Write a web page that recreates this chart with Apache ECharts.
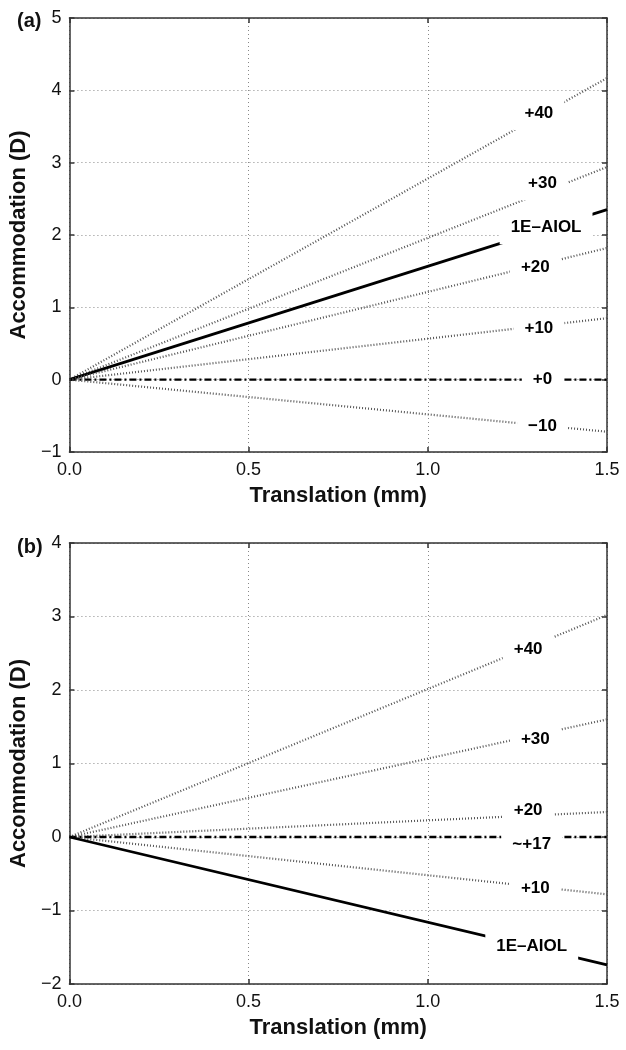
<!DOCTYPE html>
<html lang="en">
<head>
    <meta charset="UTF-8">
    <title>Accommodation vs translation</title>
    <style>
        html,body{
            height: 100%;
        }
        body{
            margin: 0;
            padding: 0;
            background: #fff;
        }
        #chart{
            width: 626px;
            height: 1050px;
        }
    </style>
</head>
<body>
    <div id="chart"></div>
</body>
</html>
<script src="https://cdn.jsdelivr.net/npm/echarts@6/dist/echarts.min.js"></script>
<script>
    // x range of every line (mm)
    var xStart = 0;
    var xEnd = 1.5;

    // panel (a)
    var aNames = ['+40', '+30', '1E\u2013AIOL', '+20', '+10', '+0', '\u221210'];
    var aEnd = [4.17, 2.94, 2.35, 1.82, 0.85, 0, -0.72];
    var aLabelX = [1.31, 1.32, 1.33, 1.30, 1.31, 1.32, 1.32];
    var aLabelY = [3.68, 2.71, 2.10, 1.56, 0.71, 0, -0.65];

    // panel (b)
    var bNames = ['+40', '+30', '+20', '~+17', '+10', '1E\u2013AIOL'];
    var bEnd = [3.02, 1.6, 0.34, 0, -0.78, -1.74];
    var bLabelX = [1.28, 1.30, 1.28, 1.29, 1.30, 1.29];
    var bLabelY = [2.55, 1.33, 0.36, -0.10, -0.70, -1.49];

    var font = 'Liberation Sans, Arial, sans-serif';
    var minus = function (v) { return String(v).replace('-', '\u2212'); };

    function lineStyleFor(name) {
        if (name.indexOf('AIOL') >= 0) return {color: '#000', width: 2.8, type: 'solid'};
        if (name === '+0' || name === '~+17') return {color: '#000', width: 2.4, type: [7, 3, 2, 3]};
        return {color: '#555', width: 2.2, type: [1, 2]};
    }

    function mainX(idx) {
        return {
            type: 'value', gridIndex: idx, min: 0, max: 1.5, interval: 0.5,
            name: 'Translation (mm)', nameLocation: 'middle', nameGap: 33,
            nameTextStyle: {fontFamily: font, fontWeight: 'bold', fontSize: 22, color: '#111'},
            axisLine: {onZero: false, lineStyle: {color: '#333', width: 1.5}},
            axisTick: {inside: true, length: 5, lineStyle: {color: '#333', width: 1.5}},
            axisLabel: {fontFamily: font, fontSize: 18, color: '#111', margin: 9,
                formatter: function (v) { return v.toFixed(1); }},
            splitLine: {show: true, lineStyle: {color: '#888', width: 1, type: [1, 3]}}
        };
    }
    function boxX(idx) {
        return {
            type: 'value', gridIndex: idx, position: 'top', min: 0, max: 1.5, interval: 0.5,
            axisLine: {onZero: false, lineStyle: {color: '#333', width: 1.5}},
            axisTick: {inside: true, length: 5, lineStyle: {color: '#333', width: 1.5}},
            axisLabel: {show: false}, splitLine: {show: false}
        };
    }
    function mainY(idx, min, max) {
        return {
            type: 'value', gridIndex: idx, min: min, max: max, interval: 1,
            name: 'Accommodation (D)', nameLocation: 'middle', nameGap: 34,
            nameTextStyle: {fontFamily: font, fontWeight: 'bold', fontSize: 22, color: '#111'},
            axisLine: {show: true, onZero: false, lineStyle: {color: '#333', width: 1.5}},
            axisTick: {show: true, inside: true, length: 5, lineStyle: {color: '#333', width: 1.5}},
            axisLabel: {fontFamily: font, fontSize: 18, color: '#111', margin: 8, formatter: minus},
            splitLine: {show: true, lineStyle: {color: '#888', width: 1, type: [1, 3]}}
        };
    }
    function boxY(idx, min, max) {
        return {
            type: 'value', gridIndex: idx, position: 'right', min: min, max: max, interval: 1,
            axisLine: {show: true, onZero: false, lineStyle: {color: '#333', width: 1.5}},
            axisTick: {show: true, inside: true, length: 5, lineStyle: {color: '#333', width: 1.5}},
            axisLabel: {show: false}, splitLine: {show: false}
        };
    }

    function panelSeries(idx, names, ends, lx, ly) {
        var out = [];
        names.forEach(function (n, i) {
            out.push({
                type: 'line', xAxisIndex: idx * 2, yAxisIndex: idx * 2,
                data: [[xStart, 0], [xEnd, ends[i]]],
                symbol: 'none', silent: true, z: 3,
                lineStyle: lineStyleFor(n)
            });
        });
        out.push({
            type: 'scatter', xAxisIndex: idx * 2, yAxisIndex: idx * 2,
            symbolSize: 0, silent: true, z: 6,
            itemStyle: {opacity: 1},
            data: names.map(function (n, i) { return {value: [lx[i], ly[i]], name: n}; }),
            label: {
                show: true, position: 'inside', formatter: '{b}', opacity: 1,
                fontFamily: font, fontWeight: 'bold', fontSize: 17, color: '#000',
                backgroundColor: '#fff', padding: [8, 11]
            }
        });
        return out;
    }

    var myChart = echarts.init(document.getElementById('chart'), null, {renderer: 'canvas'});

    myChart.setOption({
        animation: false,
        backgroundColor: '#fff',
        title: [
            {text: '(a)', left: 12, top: 6, textStyle: {fontFamily: font, fontWeight: 'bold', fontSize: 20, color: '#111'}},
            {text: '(b)', left: 12, top: 532, textStyle: {fontFamily: font, fontWeight: 'bold', fontSize: 20, color: '#111'}}
        ],
        grid: [
            {left: 69, right: 19, top: 18, height: 434},
            {left: 69, right: 19, top: 543, height: 441}
        ],
        xAxis: [mainX(0), boxX(0), mainX(1), boxX(1)],
        yAxis: [mainY(0, -1, 5), boxY(0, -1, 5), mainY(1, -2, 4), boxY(1, -2, 4)],
        series: panelSeries(0, aNames, aEnd, aLabelX, aLabelY)
            .concat(panelSeries(1, bNames, bEnd, bLabelX, bLabelY))
    });
</script>
